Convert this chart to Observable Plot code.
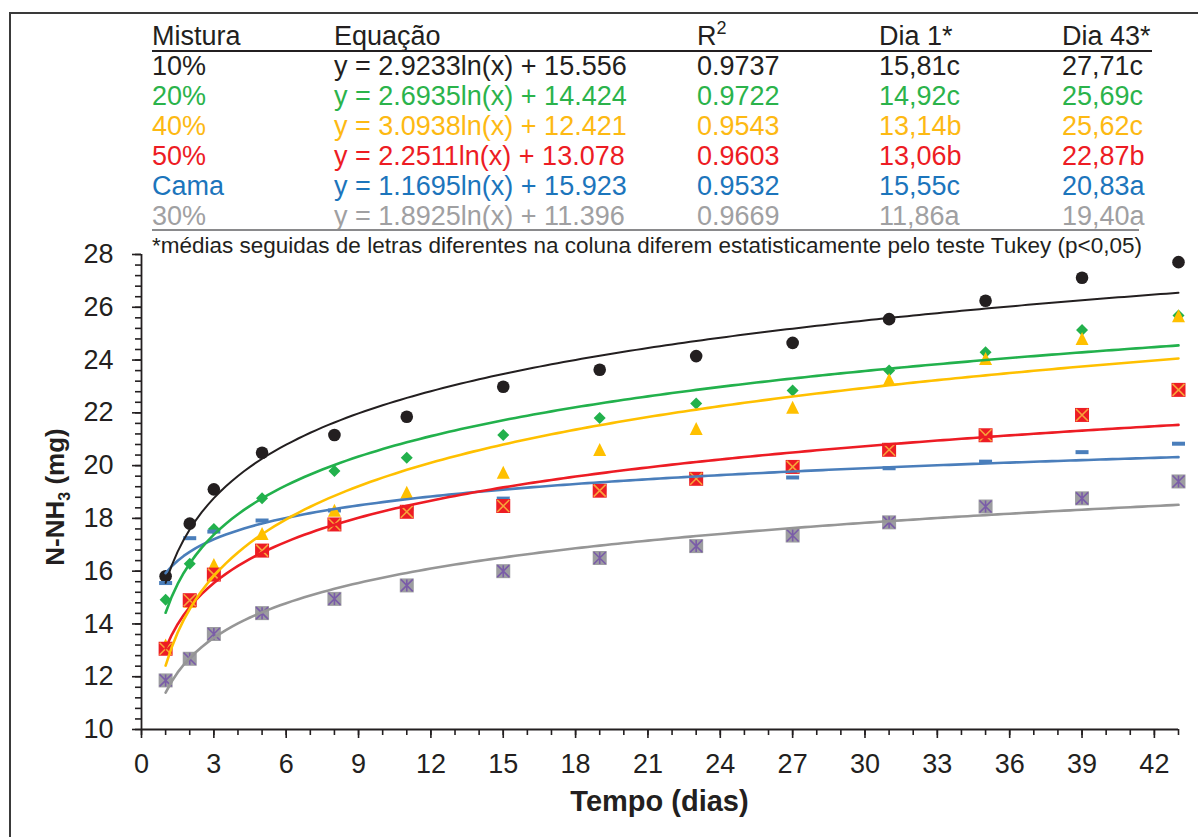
<!DOCTYPE html>
<html>
<head>
<meta charset="utf-8">
<script src="https://cdn.jsdelivr.net/npm/d3@7"></script>
<script src="https://cdn.jsdelivr.net/npm/@observablehq/plot@0.6"></script>
<style>
  html, body { margin: 0; padding: 0; background: #fff; }
  #wrap { position: relative; width: 1198px; height: 837px; overflow: hidden; background: #fff;
          font-family: "Liberation Sans", Arial, sans-serif; color: #231f20; }
  #frame { position: absolute; left: 9px; top: 12px; width: 1300px; height: 1000px;
           border: 2px solid #3a3a3a; box-sizing: border-box; }
  #plot { position: absolute; left: 0; top: 0; }
  .cell { position: absolute; font-size: 27px; white-space: nowrap; line-height: 1; }
  .foot { position: absolute; font-size: 22.5px; white-space: nowrap; left: 152px; }
  .hline { position: absolute; height: 0; }
</style>
</head>
<body>
<div id="wrap">
  <div id="frame"></div>
  <div id="plot"></div>
  <div id="table"></div>
</div>
<script>
// ---------------- data ----------------
const dias = [1, 2, 3, 5, 8, 11, 15, 19, 23, 27, 31, 35, 39, 43];

const serie10   = [15.81, 17.80, 19.10, 20.49, 21.16, 21.85, 22.99, 23.63, 24.15, 24.65, 25.55, 26.25, 27.12, 27.71];
const serie20   = [14.92, 16.28, 17.60, 18.76, 19.80, 20.30, 21.16, 21.80, 22.35, 22.85, 23.60, 24.30, 25.14, 25.69];
const serie40   = [13.14, 14.80, 16.19, 17.37, 18.25, 18.93, 19.69, 20.55, 21.35, 22.15, 23.20, 24.00, 24.76, 25.62];
const serie50   = [13.06, 14.90, 15.87, 16.78, 17.77, 18.25, 18.47, 19.05, 19.50, 19.95, 20.60, 21.15, 21.92, 22.87];
const serieCama = [15.55, 17.25, 17.50, 17.92, 18.30, 18.35, 18.75, 19.10, 19.50, 19.55, 19.90, 20.15, 20.51, 20.83];
const serie30   = [11.86, 12.68, 13.62, 14.41, 14.95, 15.46, 16.00, 16.50, 16.95, 17.35, 17.85, 18.45, 18.76, 19.40];

const misturas = ["10%", "20%", "40%", "50%", "Cama", "30%"];
const equacoes = ["y = 2.9233ln(x) + 15.556", "y = 2.6935ln(x) + 14.424", "y = 3.0938ln(x) + 12.421",
                  "y = 2.2511ln(x) + 13.078", "y = 1.1695ln(x) + 15.923", "y = 1.8925ln(x) + 11.396"];
const coefA = [2.9233, 2.6935, 3.0938, 2.2511, 1.1695, 1.8925];
const coefB = [15.556, 14.424, 12.421, 13.078, 15.923, 11.396];
const r2 = ["0.9737", "0.9722", "0.9543", "0.9603", "0.9532", "0.9669"];
const dia1 = ["15,81c", "14,92c", "13,14b", "13,06b", "15,55c", "11,86a"];
const dia43 = ["27,71c", "25,69c", "25,62c", "22,87b", "20,83a", "19,40a"];
const cabecalho = ["Mistura", "Equação", "R", "Dia 1*", "Dia 43*"];
const nota = "*médias seguidas de letras diferentes na coluna diferem estatisticamente pelo teste Tukey (p<0,05)";

const xTicksMajor = [0, 3, 6, 9, 12, 15, 18, 21, 24, 27, 30, 33, 36, 39, 42];
const yTicksMajor = [10, 12, 14, 16, 18, 20, 22, 24, 26, 28];

// ---------------- styles ----------------
const textColors = ["#231f20", "#2bb34b", "#fdb913", "#ed1c24", "#1c75bc", "#a0a0a2"];
const lineColors = ["#231f20", "#22b14c", "#ffc000", "#ed1c24", "#4a7ebb", "#969696"];

// custom symbols (fixed pixel size)
const sq = h => ({ draw(c) { c.moveTo(-h, -h); c.lineTo(h, -h); c.lineTo(h, h); c.lineTo(-h, h); c.closePath(); } });
const crossX = h => ({ draw(c) { c.moveTo(-h, -h); c.lineTo(h, h); c.moveTo(h, -h); c.lineTo(-h, h); } });
const zhe = h => ({ draw(c) { c.moveTo(-h, -h); c.lineTo(h, h); c.moveTo(h, -h); c.lineTo(-h, h); c.moveTo(0, -h); c.lineTo(0, h); } });
const dash = (w, h) => ({ draw(c) { c.moveTo(-w, -h); c.lineTo(w, -h); c.lineTo(w, h); c.lineTo(-w, h); c.closePath(); } });
const diamond = h => ({ draw(c) { c.moveTo(0, -h); c.lineTo(h, 0); c.lineTo(0, h); c.lineTo(-h, 0); c.closePath(); } });
const tri = (w, h) => ({ draw(c) { c.moveTo(0, -h * 0.62); c.lineTo(w, h * 0.38); c.lineTo(-w, h * 0.38); c.closePath(); } });

const pts = arr => dias.map((d, i) => ({ x: d, y: arr[i] }));
const curve = k => d3.range(1, 43.001, 0.25).map(x => ({ x, y: coefA[k] * Math.log(x) + coefB[k] }));

const yMinor = d3.range(0, 46).map(i => 10 + i * 0.4);
const xMinor = d3.range(0, 44);

const chart = Plot.plot({
  width: 1198, height: 837,
  marginLeft: 141, marginRight: 20, marginTop: 254, marginBottom: 108,
  x: { domain: [0, 43] },
  y: { domain: [10, 28] },
  style: { fontFamily: "'Liberation Sans', Arial, sans-serif", fontSize: "27px", color: "#231f20", background: "transparent" },
  marks: [
    Plot.axisX({ ticks: xMinor, tickSize: 6, strokeWidth: 1.6, tickFormat: () => "", label: null }),
    Plot.axisX({ ticks: xTicksMajor, tickSize: 9, strokeWidth: 1.6, tickPadding: 15, fontSize: 27, label: null }),
    Plot.axisY({ ticks: yMinor, tickSize: 6, strokeWidth: 1.6, tickFormat: () => "", label: null }),
    Plot.axisY({ ticks: yTicksMajor, tickSize: 9, strokeWidth: 1.6, tickPadding: 19, fontSize: 27, label: null }),
    Plot.ruleY([10], { stroke: "#231f20", strokeWidth: 1.8 }),
    Plot.ruleX([0], { stroke: "#231f20", strokeWidth: 1.8 }),
    // markers
    Plot.dot(pts(serie10), { x: "x", y: "y", symbol: "circle", r: 6.3, fill: "#231f20", stroke: "none" }),
    Plot.dot(pts(serie20), { x: "x", y: "y", symbol: diamond(6), fill: "#22b14c", stroke: "none" }),
    Plot.dot(pts(serieCama), { x: "x", y: "y", symbol: dash(6.5, 2), fill: "#4a7ebb", stroke: "none" }),
    Plot.dot(pts(serie40), { x: "x", y: "y", symbol: tri(6.5, 13), fill: "#ffc000", stroke: "none" }),
    Plot.dot(pts(serie50), { x: "x", y: "y", symbol: sq(7), fill: "#ed1c24", stroke: "none" }),
    Plot.dot(pts(serie50), { x: "x", y: "y", symbol: crossX(6), fill: "none", stroke: "#f7a33a", strokeWidth: 1.6 }),
    Plot.dot(pts(serie30), { x: "x", y: "y", symbol: sq(7), fill: "#9c9ca0", stroke: "none" }),
    Plot.dot(pts(serie30), { x: "x", y: "y", symbol: zhe(6), fill: "none", stroke: "#7a5ca8", strokeWidth: 1.6 }),
    // trend lines
    ...[5, 4, 3, 2, 1, 0].map(k => Plot.line(curve(k), { x: "x", y: "y", stroke: lineColors[k], strokeWidth: k === 0 ? 2 : 2.6, curve: "linear" }))
  ]
});
document.getElementById("plot").appendChild(chart);

// axis titles
const svg = d3.select(chart);
const yt = svg.append("text")
  .attr("transform", "translate(64,497) rotate(-90)")
  .attr("text-anchor", "middle")
  .attr("font-size", 26).attr("font-weight", "bold").attr("fill", "#231f20")
  .attr("font-family", "'Liberation Sans', Arial, sans-serif");
yt.append("tspan").text("N-NH");
yt.append("tspan").attr("font-size", 16).attr("dy", 6).text("3");
yt.append("tspan").attr("dy", -6).text(" (mg)");
svg.append("text")
  .attr("x", 659.5).attr("y", 811)
  .attr("text-anchor", "middle")
  .attr("font-size", 29).attr("font-weight", "bold").attr("fill", "#231f20")
  .attr("font-family", "'Liberation Sans', Arial, sans-serif")
  .text("Tempo (dias)");

// table
const table = document.getElementById("table");
const colX = [152, 334, 697, 879, 1062];
function addCell(x, baseline, txt, color, html) {
  const d = document.createElement("div");
  d.className = "cell";
  d.style.left = x + "px";
  d.style.top = (baseline - 27 * 0.905) + "px";
  d.style.color = color;
  if (html) d.innerHTML = txt; else d.textContent = txt;
  table.appendChild(d);
}
cabecalho.forEach((h, j) => {
  if (j === 2) addCell(colX[j], 47, h + '<span style="font-size:18px;position:relative;top:-11px">2</span>', "#231f20", true);
  else addCell(colX[j], 47, h, "#231f20");
});
const hl = document.createElement("div");
hl.className = "hline";
hl.style.cssText = "left:152px;top:50px;width:1000px;border-top:2.5px solid #231f20;";
table.appendChild(hl);
misturas.forEach((m, i) => {
  const b = 77 + i * 30;
  const c = textColors[i];
  addCell(colX[0], b, m, c);
  addCell(colX[1], b, equacoes[i], c);
  addCell(colX[2], b, r2[i], c);
  addCell(colX[3], b, dia1[i], c);
  addCell(colX[4], b, dia43[i], c);
});
const hl2 = document.createElement("div");
hl2.className = "hline";
hl2.style.cssText = "left:152px;top:229px;width:987px;border-top:2.5px solid #8a8a8c;";
table.appendChild(hl2);
const f = document.createElement("div");
f.className = "foot";
f.style.top = (255 - 22.5 * 0.905) + "px";
f.style.lineHeight = "1";
f.textContent = nota;
table.appendChild(f);
</script>
</body>
</html>
